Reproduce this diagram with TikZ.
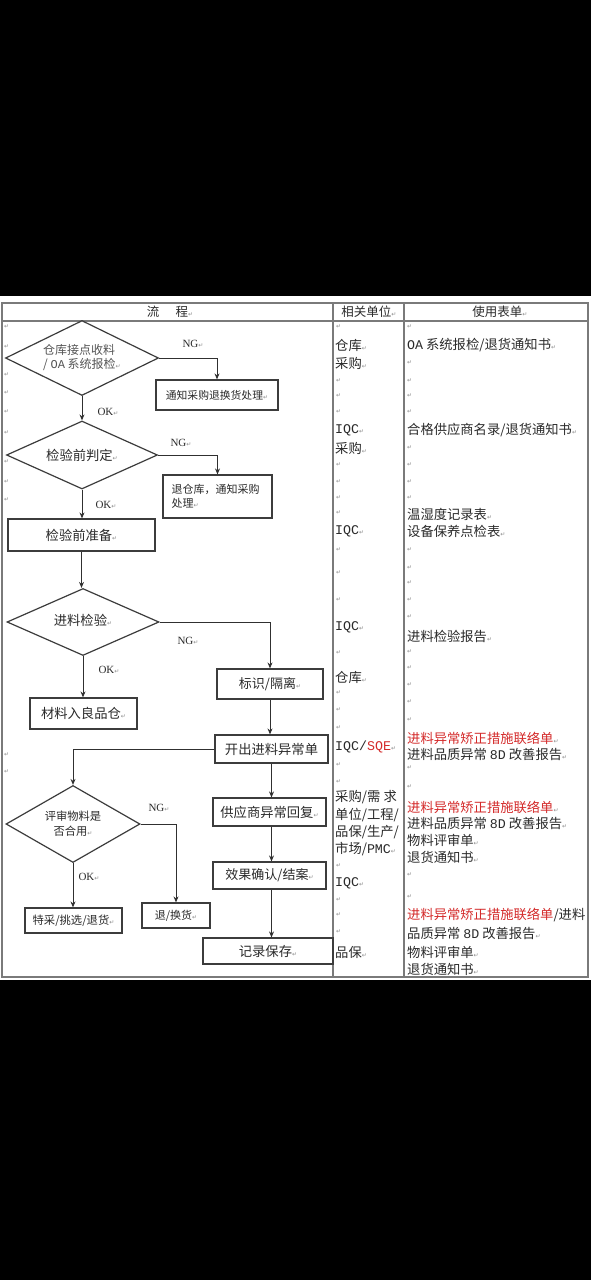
\documentclass[tikz,border=0pt]{standalone}
\usepackage{fontspec}
\setmainfont{Noto Sans CJK SC}
\newfontfamily\dvfont{DejaVu Sans}
\newfontfamily\latfont{Liberation Mono}
\newfontfamily\serfont{Liberation Serif}
\usetikzlibrary{shapes.geometric,arrows.meta}
\definecolor{txt}{HTML}{2A2A2A}
\definecolor{redtxt}{HTML}{D42A2A}
\definecolor{tblc}{HTML}{7A7A7A}
\definecolor{boxc}{HTML}{3C3C3C}
\definecolor{linec}{HTML}{303030}
\newcommand\fsz[1]{\fontsize{#1}{#1}\selectfont}
\newcommand\parmk{{\dvfont\fontsize{6}{6}\selectfont\textcolor{black!45}{↵}}}
\tikzset{
  tbl/.style={draw=tblc, line width=1.3pt},
  box/.style={draw=boxc, line width=1.2pt, fill=white, inner sep=0pt, text=txt},
  dia/.style={diamond, aspect=2, draw=boxc, line width=1.2pt, fill=white, inner sep=0pt, text=txt},
  arr/.style={draw=linec, line width=1pt, -{Stealth[length=6pt,width=5pt]}},
  lbl/.style={font=\serfont\fsz{11}, text=txt, inner sep=0pt},
  coltext/.style={anchor=west, inner sep=0pt, text=txt, font=\fsz{13.3}},
  mk/.style={anchor=west, inner sep=0pt}
}
\begin{document}
\begin{tikzpicture}[x=1pt,y=-1pt]
\useasboundingbox (0,0) rectangle (591,1280);
\fill[black] (0,0) rectangle (591,1280);
\fill[white] (0,296) rectangle (591,980);
% table
\draw[tbl] (2,303) rectangle (588,977);
\draw[tbl] (2,321) -- (588,321);
\draw[tbl] (333,303) -- (333,977);
\draw[tbl] (404,303) -- (404,977);
% headers
\node[text=txt, font=\fsz{12.5}, inner sep=0pt] (hflow) at (170,312) {流\hspace{1.3em}程\parmk};
\node[text=txt, font=\fsz{12.5}, inner sep=0pt] (hunit) at (369,312) {相关单位\parmk};
\node[text=txt, font=\fsz{12.5}, inner sep=0pt] (hform) at (500,312) {使用表单\parmk};
% paragraph marks, flow column
\foreach \y [count=\i] in {327,347,375,393,412,433,462,482,500,755,772}
  \node[mk] (ma\i) at (4,\y) {\parmk};
% flow chart
\node[dia, minimum width=153pt, minimum height=75pt, font=\fsz{12}, align=left] (d1) at (82,358)
  {\textcolor{txt!80}{仓库接点收料}\\[2pt]\textcolor{txt!80}{/ {\latfont OA} 系统报检}\parmk};
\node[box, minimum width=122pt, minimum height=30pt, font=\fsz{10.8}] (b1) at (217,395) {通知采购退换货处理\parmk};
\node[dia, minimum width=151pt, minimum height=68pt, font=\fsz{13.3}] (d2) at (82,455) {检验前判定\parmk};
\node[box, minimum width=109pt, minimum height=43pt, font=\fsz{11}, align=left, text width=92pt] (b2) at (217.5,496.5)
  {退仓库，通知采购\\[3pt]处理\parmk};
\node[box, minimum width=147pt, minimum height=32pt, font=\fsz{13.3}] (b3) at (81.5,535) {检验前准备\parmk};
\node[dia, minimum width=152pt, minimum height=67pt, font=\fsz{13.3}] (d3) at (83,622) {\raisebox{4pt}{进料检验\parmk}};
\node[box, minimum width=106pt, minimum height=30pt, font=\fsz{13}] (b5) at (270,684) {标识/隔离\parmk};
\node[box, minimum width=107pt, minimum height=31pt, font=\fsz{13.3}] (b4) at (83.5,713.5) {材料入良品仓\parmk};
\node[box, minimum width=113pt, minimum height=28pt, font=\fsz{13.3}] (b6) at (271.5,749) {开出进料异常单};
\node[dia, minimum width=134pt, minimum height=77pt, font=\fsz{11.3}, align=center] (d4) at (73,824)
  {评审物料是\\[4pt]否合用\parmk};
\node[box, minimum width=113pt, minimum height=28pt, font=\fsz{13.3}] (b7) at (269.5,812) {供应商异常回复\parmk};
\node[box, minimum width=113pt, minimum height=27pt, font=\fsz{13}] (b8) at (269.5,875.5) {效果确认/结案\parmk};
\node[box, minimum width=68pt, minimum height=25pt, font=\fsz{11}] (b10) at (176,915.5) {退/换货\parmk};
\node[box, minimum width=97pt, minimum height=25pt, font=\fsz{11.3}] (b11) at (73.5,920.5) {特采/挑选/退货\parmk};
\node[box, minimum width=130pt, minimum height=26pt, font=\fsz{13.3}] (b9) at (268,951) {记录保存\parmk};
% connectors
\draw[arr] (d1.east) -| (b1.north);
\draw[arr] (d1.south) -- (d2.north);
\draw[arr] (d2.east) -| (b2.north);
\draw[arr] (d2.south) -- (d2.south |- b3.north);
\draw[arr] (b3.south) -- (b3.south |- d3.north);
\draw[arr] (d3.east) -| (b5.north);
\draw[arr] (d3.south) -- (d3.south |- b4.north);
\draw[arr] (b5.south) -- (b5.south |- b6.north);
\draw[arr] (b6.west) -| (d4.north);
\draw[arr] (d4.east) -| (b10.north);
\draw[arr] (d4.south) -- (d4.south |- b11.north);
\draw[arr] (b6.south) -- (b6.south |- b7.north);
\draw[arr] (b6.south |- b7.south) -- (b6.south |- b8.north);
\draw[arr] (b6.south |- b8.south) -- (b6.south |- b9.north);
% NG / OK labels
\node[lbl] (ng1) at (193,344) {NG\parmk};
\node[lbl] (ok1) at (108,412) {OK\parmk};
\node[lbl] (ng2) at (181,443) {NG\parmk};
\node[lbl] (ok2) at (106,505) {OK\parmk};
\node[lbl] (ng3) at (188,641) {NG\parmk};
\node[lbl] (ok3) at (109,670) {OK\parmk};
\node[lbl] (ng4) at (159,808) {NG\parmk};
\node[lbl] (ok4) at (89,877) {OK\parmk};
% column 2: related units
\foreach \y [count=\i] in {327,381,396,412,465,482,498,513,550,573,600,653,693,710,728,765,782,866,900,915,932}
  \node[mk] (mb\i) at (336,\y) {\parmk};
\node[coltext] (u1) at (335,345) {仓库\parmk};
\node[coltext] (u2) at (335,363) {采购\parmk};
\node[coltext] (u3) at (335,430) {{\latfont IQC}\parmk};
\node[coltext] (u4) at (335,448) {采购\parmk};
\node[coltext] (u5) at (335,531) {{\latfont IQC}\parmk};
\node[coltext] (u6) at (335,627) {{\latfont IQC}\parmk};
\node[coltext] (u7) at (335,677) {仓库\parmk};
\node[coltext] (u8) at (335,747) {{\latfont IQC/\textcolor{redtxt}{SQE}}\parmk};
\node[coltext] (u9) at (335,797) {采购/需\hspace{0.25em}求};
\node[coltext] (u10) at (335,815) {单位/工程/};
\node[coltext] (u11) at (335,832) {品保/生产/};
\node[coltext] (u12) at (335,849) {市场/{\latfont PMC}\parmk};
\node[coltext] (u13) at (335,883) {{\latfont IQC}\parmk};
\node[coltext] (u14) at (335,952) {品保\parmk};
% column 3: forms
\foreach \y [count=\i] in {327,363,381,396,412,448,465,482,498,550,568,583,600,617,652,668,685,702,720,768,787,875,897}
  \node[mk] (mc\i) at (407,\y) {\parmk};
\node[coltext] (f1) at (407,345) {{\latfont OA} 系统报检/退货通知书\parmk};
\node[coltext] (f2) at (407,430) {合格供应商名录/退货通知书\parmk};
\node[coltext] (f3) at (407,514) {温湿度记录表\parmk};
\node[coltext] (f4) at (407,531) {设备保养点检表\parmk};
\node[coltext] (f5) at (407,636) {进料检验报告\parmk};
\node[coltext, text=redtxt] (f6) at (407,738) {进料异常矫正措施联络单\parmk};
\node[coltext] (f7) at (407,754) {进料品质异常 {\latfont 8D} 改善报告\parmk};
\node[coltext, text=redtxt] (f8) at (407,807) {进料异常矫正措施联络单\parmk};
\node[coltext] (f9) at (407,823) {进料品质异常 {\latfont 8D} 改善报告\parmk};
\node[coltext] (f10) at (407,840) {物料评审单\parmk};
\node[coltext] (f11) at (407,857) {退货通知书\parmk};
\node[coltext] (f12) at (407,915) {\textcolor{redtxt}{进料异常矫正措施联络单}/进料};
\node[coltext] (f13) at (407,933) {品质异常 {\latfont 8D} 改善报告\parmk};
\node[coltext] (f14) at (407,952) {物料评审单\parmk};
\node[coltext] (f15) at (407,969) {退货通知书\parmk};
\end{tikzpicture}
\end{document}
